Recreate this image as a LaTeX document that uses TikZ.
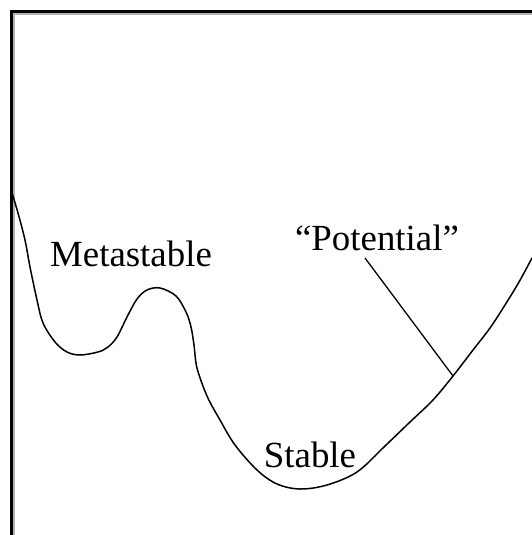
\documentclass[tikz,border=0pt]{standalone}
\usepackage{fontspec}
\setmainfont{Liberation Serif}
\tikzset{
  curveline/.style={line width=1.5bp, line join=round, line cap=round},
  leader/.style={line width=1.3bp},
  lbl/.style={inner sep=0pt, font=\fontsize{37}{40}\selectfont},
  frameline/.style={line width=2.4bp},
  frameshade/.style={line width=1.6bp, gray!60}
}
\begin{document}
\begin{tikzpicture}[x=1bp,y=-1bp]
\useasboundingbox (0,0) rectangle (532,535);
% frame (left and top edges)
\draw[frameshade] (14,535) -- (14,14) -- (532,14);
\draw[frameline] (11.5,535) -- (11.5,11.5) -- (532,11.5);
% potential curve
\draw[curveline] plot[smooth, tension=0.55] coordinates {
 (12,193) (18,213) (25,240) (30,267) (37,300) (43,323) (55,342) (67,352)
 (80,355) (98,352) (108,347) (117,337) (127,317) (137,299) (147,290)
 (160,288) (176,296) (186,312) (191,327) (194,345) (197,368)
 (207,396) (220,420) (235,445) (257,470) (277,484) (300,489) (327,485)
 (357,472) (385,446) (410,422) (433,400) (453,376) (473,350) (490,328)
 (505,305) (519,282) (532,258)};
\coordinate (touch) at (453,376);
% labels
\node[lbl] (meta) at (131,254) {Metastable};
\node[lbl] (stab) at (310,455) {Stable};
\node[lbl] (pot) at (377,238) {“Potential”};
% leader line
\coordinate (lstart) at (365,258);
\draw[leader] (lstart) -- (touch);
\end{tikzpicture}
\end{document}
